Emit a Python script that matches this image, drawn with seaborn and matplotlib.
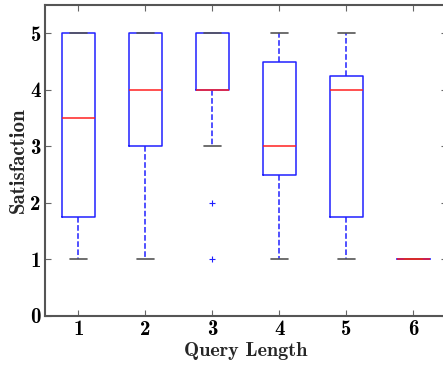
import pandas as pd
import matplotlib
matplotlib.use("Agg")
import matplotlib.pyplot as plt
import seaborn as sns

# satisfaction ratings (1-5) grouped by query length
len1 = [1, 2, 5, 5]
len2 = [1, 3, 4, 5, 5]
len3 = [1, 2, 3, 4, 4, 4, 4, 5, 5, 5, 5, 5, 5]
len4 = [1, 2, 3, 3, 4, 5, 5]
len5 = [1, 1, 2, 4, 4, 4, 5, 5]
len6 = [1, 1]
lengths = [1, 2, 3, 4, 5, 6]

groups = [len1, len2, len3, len4, len5, len6]
rows = []
for q, vals in zip(lengths, groups):
    for v in vals:
        rows.append({"Query Length": q, "Satisfaction": v})
df = pd.DataFrame(rows)

sns.set_style("ticks")
plt.rcParams["font.family"] = ["cmb10", "DejaVu Serif"]
plt.rcParams["axes.unicode_minus"] = False

fig = plt.figure(figsize=(4.43, 3.7), dpi=100)
ax = fig.add_axes([0.1016, 0.146, 0.907, 0.8405])

sns.boxplot(data=df, x="Query Length", y="Satisfaction", native_scale=True,
            fill=False, width=0.5, whis=1.5, ax=ax,
            boxprops=dict(color="#2020ff", linewidth=1.1),
            medianprops=dict(color="#ff2020", linewidth=1.1),
            whiskerprops=dict(color="#2020ff", linestyle="--", linewidth=1.1),
            capprops=dict(color="#555555", linewidth=1.2),
            flierprops=dict(marker="+", markeredgecolor="#2020ff", markerfacecolor="#2020ff",
                            markersize=5, markeredgewidth=0.8))

ax.set_xlim(0.5, 6.5)
ax.set_ylim(0, 5.5)
ax.set_xticks(lengths)
ax.set_xticklabels([str(q) for q in lengths])
ax.set_yticks([0, 1, 2, 3, 4, 5])
ax.set_yticklabels(["0", "1", "2", "3", "4", "5"])
ax.tick_params(direction="in", top=True, right=True, labelsize=15, length=4,
               width=0.8, colors="#666666", labelcolor="black")
ax.tick_params(axis="y", pad=3)
ax.tick_params(axis="x", pad=3)
for s in ax.spines.values():
    s.set_visible(True)
    s.set_color("#555555")
    s.set_linewidth(1.5)
ax.set_xlabel("Query Length", fontsize=14.5, labelpad=2)
ax.set_ylabel("Satisfaction", fontsize=15, labelpad=2)

fig.savefig("out.png", dpi=100)
